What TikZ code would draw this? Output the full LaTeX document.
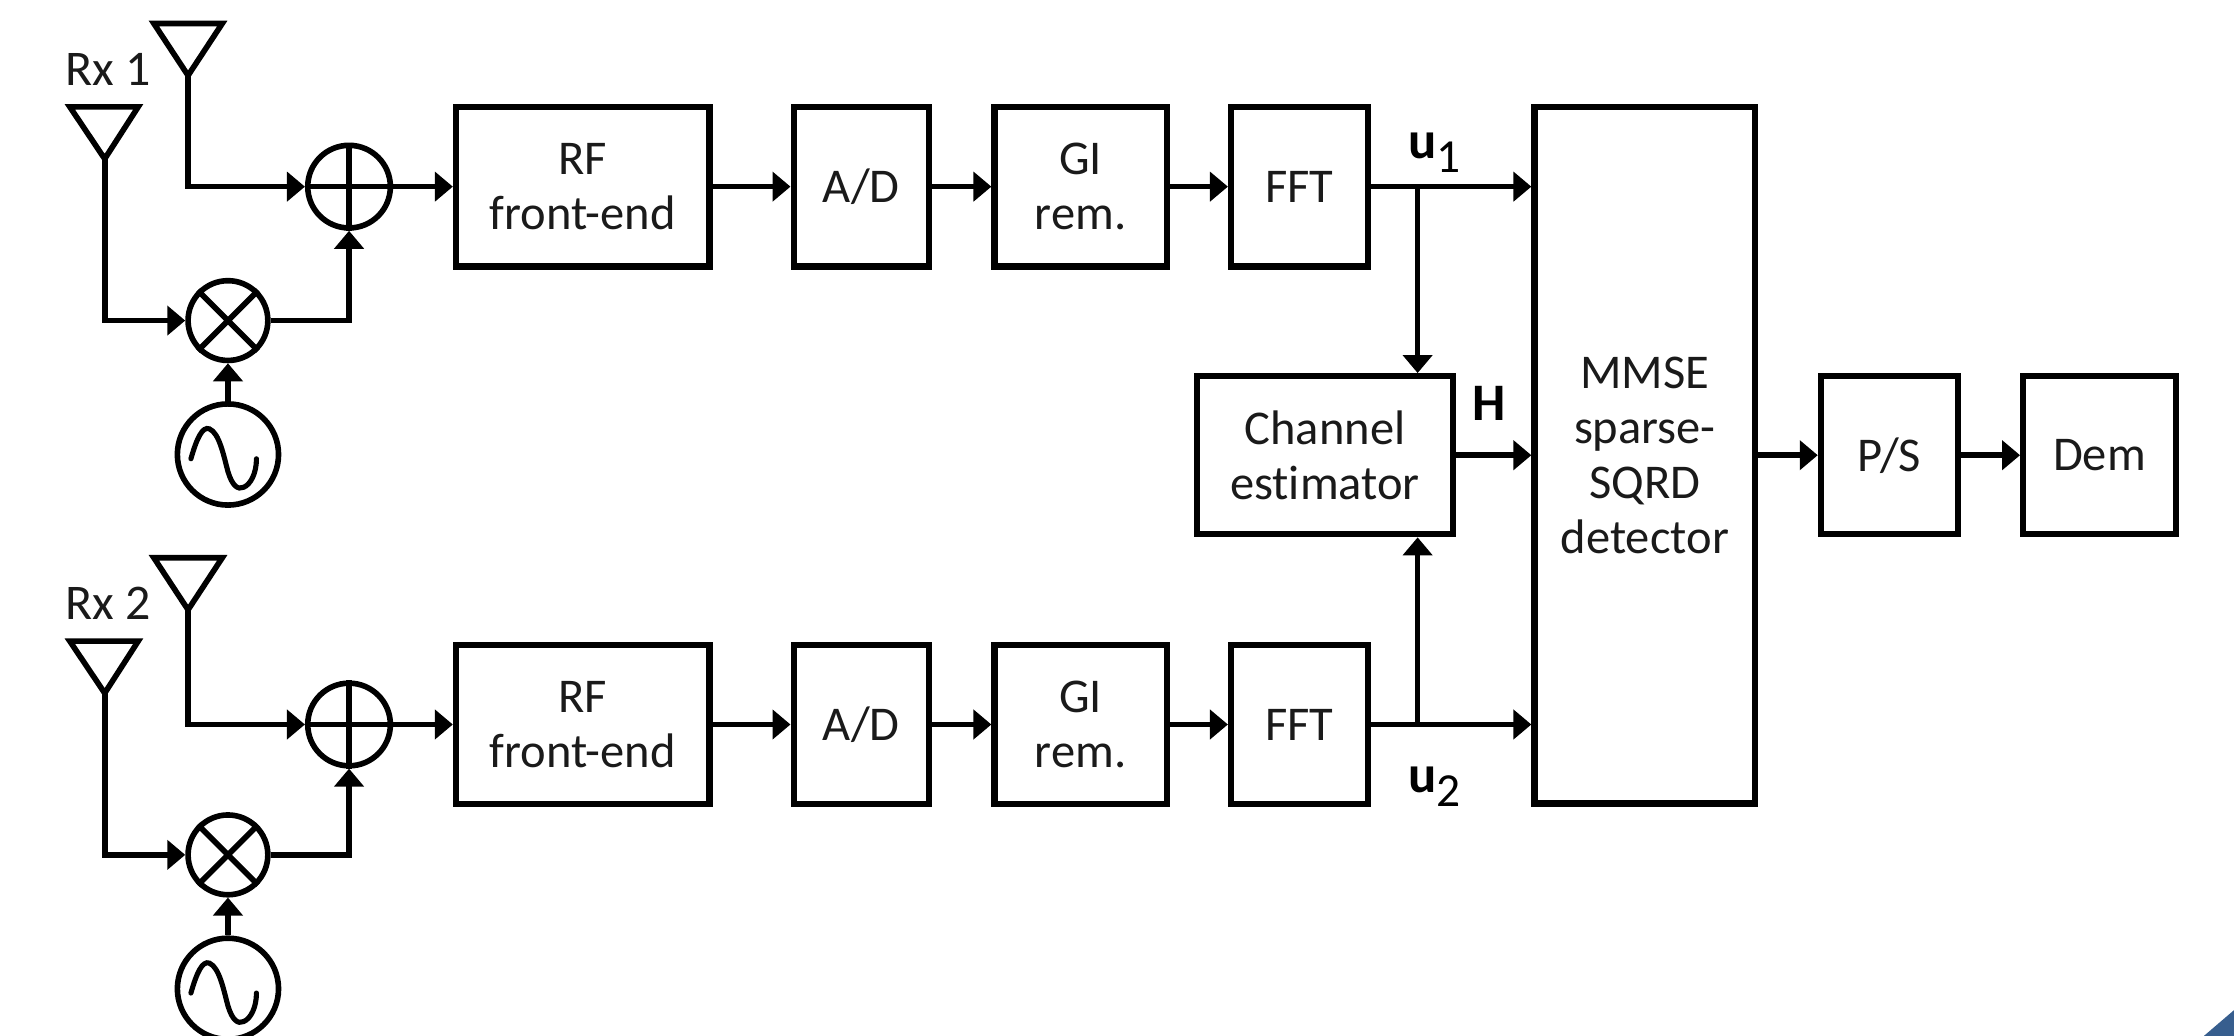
\documentclass[tikz,border=0pt]{standalone}
\usepackage{fontspec}
\setmainfont[Ligatures=CommonOff]{Carlito}
\usetikzlibrary{arrows.meta}
\definecolor{ink}{HTML}{1A1A1A}
\definecolor{cornerblue}{HTML}{375E8E}
\tikzset{
  wire/.style={line width=1.6pt,draw=black,line join=miter},
  arrowwire/.style={wire,-{Triangle[length=0.18cm,width=0.29cm]}},
  blockbox/.style={draw=black,line width=1.75pt,align=center,inner sep=0pt,text=ink,
    font=\fontsize{13.8}{15.6}\selectfont},
  junction/.style={circle,draw=black,line width=1.6pt,inner sep=0pt,fill=white},
  antenna/.style={wire,line join=miter},
  lab/.style={text=ink,inner sep=0pt,font=\fontsize{14.2}{15.6}\selectfont},
  boldlab/.style={text=black,inner sep=0pt,font=\fontsize{15}{16}\selectfont\bfseries}
}
\newcommand{\sigbox}[5]{%
  \node[blockbox,minimum width={(#3-#2)*0.14247mm},minimum height={(#5-#4)*0.14247mm}] (#1) at ({(#2+#3)/2},{(#4+#5)/2})}
\newcommand{\rxchain}[4]{% suffix, block offset, front offset, label
  \begin{scope}[yshift={-#3*0.14247mm}]
    \coordinate (apexA#1) at (132,53);
    \coordinate (apexB#1) at (73.5,111.5);
    \draw[antenna] (108,16.5) -- (156,16.5) -- (apexA#1) -- cycle;
    \draw[antenna] (49,75) -- (97,75) -- (apexB#1) -- cycle;
    \node[lab,anchor=base] (rxlab#1) at (76,60) {#4};
    \node[junction,minimum size={56*0.14247mm}] (mix#1) at (160,225) {};
    \node[junction,minimum size={71*0.14247mm}] (osc#1) at (160,319) {};
    \draw[wire] (mix#1.45) -- (mix#1.225) (mix#1.135) -- (mix#1.315);
    \draw[line width=1.45pt,line cap=round] (134,322)
      .. controls (138,308) and (142,299) .. (147,301)
      .. controls (154,304) and (157,320) .. (160,331)
      .. controls (163,341) and (167,344) .. (171,342)
      .. controls (176,340) and (180,332) .. (180,322);
  \end{scope}
  \begin{scope}[yshift={-#2*0.14247mm}]
    \node[junction,minimum size={58*0.14247mm}] (sum#1) at (245,131) {};
    \draw[wire] (sum#1.west) -- (sum#1.east) (sum#1.north) -- (sum#1.south);
    \sigbox{rf#1}{320}{498}{75}{187} {RF\\front-end};
    \sigbox{ad#1}{557}{652}{75}{187} {A/D};
    \sigbox{gi#1}{698}{819}{75}{187} {GI\\rem.};
    \sigbox{fft#1}{864}{960}{75}{187} {FFT};
  \end{scope}
  \draw[arrowwire] (apexA#1) |- (sum#1.west);
  \draw[arrowwire] (apexB#1) |- (mix#1.west);
  \draw[arrowwire] (mix#1.east) -| (sum#1.south);
  \draw[arrowwire] (osc#1.north) -- (mix#1.south);
  \draw[arrowwire] (sum#1.east) -- (rf#1.west);
  \draw[arrowwire] (rf#1.east) -- (ad#1.west);
  \draw[arrowwire] (ad#1.east) -- (gi#1.west);
  \draw[arrowwire] (gi#1.east) -- (fft#1.west);
}
\begin{document}
\begin{tikzpicture}[x=0.14247mm,y=-0.14247mm]
  \useasboundingbox (0,0) rectangle (1568,727);
  \fill[white] (0,0) rectangle (1568,727);
  \fill[cornerblue] (1547,727) .. controls (1554,721) and (1561,715) .. (1568,709) -- (1568,727) -- cycle;

  \rxchain{a}{0}{0}{Rx 1}
  \rxchain{b}{377.5}{375}{Rx 2}

  \sigbox{det}{1077}{1232}{75}{564} {MMSE\\sparse-\\SQRD\\detector};
  \sigbox{est}{840}{1020}{264}{375} {Channel\\estimator};
  \sigbox{ps}{1278}{1374}{264}{375} {P/S};
  \sigbox{dem}{1420}{1527}{264}{375} {Dem};

  \coordinate (ta) at (995,0 |- ffta.east);
  \coordinate (tb) at (995,0 |- fftb.east);

  \draw[arrowwire] (fftb.east) -- (fftb.east -| det.west);
  \draw[arrowwire] (ffta.east) -- (ffta.east -| det.west);
  \draw[arrowwire] (ta) -- (ta |- est.north);
  \draw[arrowwire] (tb) -- (tb |- est.south);
  \draw[arrowwire] (est.east) -- (est.east -| det.west);
  \draw[arrowwire] (det.east) -- (ps.west);
  \draw[arrowwire] (ps.east) -- (dem.west);

  \node[boldlab,anchor=base west] (u1) at (988,111) {u\raisebox{-0.55ex}{\fontsize{13.5}{14}\mdseries\selectfont 1}};
  \node[boldlab,anchor=base west] (u2) at (988,556) {u\raisebox{-0.55ex}{\fontsize{13.5}{14}\mdseries\selectfont 2}};
  \node[boldlab,anchor=base] (hlab) at (1045,295) {H};
\end{tikzpicture}
\end{document}
